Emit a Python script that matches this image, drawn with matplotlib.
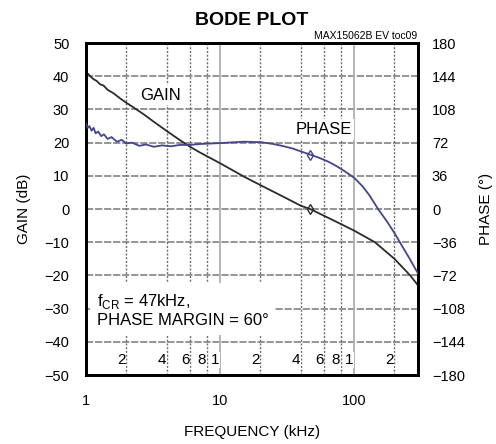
import matplotlib
matplotlib.use("Agg")
import matplotlib.pyplot as plt

plt.rcParams['font.family'] = ['Liberation Sans', 'DejaVu Sans']
plt.rcParams['mathtext.fontset'] = 'custom'
plt.rcParams['mathtext.rm'] = 'Liberation Sans'

# gain curve (kHz, dB)
gain_freq = [1.0, 1.03, 1.06, 1.1, 1.15, 1.2, 1.27, 1.35, 1.45, 1.6, 1.8, 2.0, 2.3,
             2.7, 3.2, 4.0, 5.0, 6.0, 7.1, 10, 15, 20, 30, 40, 47, 70, 100, 143,
             200, 262, 300]
gain_db = [40.0, 40.8, 40.3, 39.6, 39.0, 38.6, 37.6, 37.2, 35.9, 34.9, 33.3, 32.0, 30.4,
           28.5, 26.3, 23.5, 20.8, 18.7, 17.0, 13.8, 9.8, 7.2, 3.6, 1.0, 0.0, -3.4,
           -6.5, -10.0, -15.0, -20.0, -23.0]

# phase curve (kHz, degrees)
phase_freq = [1.0, 1.03, 1.06, 1.1, 1.14, 1.18, 1.23, 1.3, 1.36, 1.45, 1.55, 1.7, 1.85,
              2.0, 2.2, 2.5, 2.8, 3.2, 3.7, 4.3, 5.0, 6.0, 7.1, 10, 15, 20, 25, 30,
              35, 40, 47, 55, 65, 75, 85, 100, 115, 130, 151, 175, 200, 230, 260, 300]
phase_deg = [92, 88, 90, 85, 88, 82, 84, 79, 81, 76, 78, 73, 75,
             71, 72, 68.5, 70, 67.5, 69, 68, 69.5, 69.5, 70.5, 71.5, 73, 72.5, 70.5, 68,
             65.5, 62.5, 59, 55.5, 51, 46, 41, 34, 25, 15, 0, -13, -26, -41, -54, -70]

marker_freq = 47
minor_freq = [2, 4, 6, 8, 10, 20, 40, 60, 80, 100, 200]
minor_labels = ['2', '4', '6', '8', '1', '2', '4', '6', '8', '1', '2']

fig = plt.figure(figsize=(4.96, 4.44), dpi=100)
ax = fig.add_axes([0.1734, 0.1554, 0.6694, 0.7477])
ax2 = ax.twinx()

ax.set_xscale('log')
ax.set_xlim(1, 300)
ax.set_ylim(-50, 50)
ax.set_yticks(range(-50, 51, 10))
ax.set_xticks([1, 10, 100])
ax.set_xticklabels(['1', '10', '100'])
ax.minorticks_off()
ax.tick_params(length=0, labelsize=10.5, pad=12)
ax.tick_params(axis='x', pad=14)
ax2.set_ylim(-180, 180)
ax2.set_yticks(range(-180, 181, 36))
ax2.tick_params(length=0, labelsize=10.5, pad=10)

# grid
for y in range(-40, 50, 10):
    ax.axhline(y, color='#8c8c8c', lw=1.3, ls=(0, (4, 1)), zorder=1)
for f in minor_freq:
    if f in (10, 100):
        ax.axvline(f, color='#b0b0b0', lw=1.3, zorder=1)
    else:
        ax.axvline(f, color='#6f6f6f', lw=1.0, ls=(0, (1.5, 1.2)), zorder=1)

ax.plot(gain_freq, gain_db, color='#2b2b2b', lw=1.3, zorder=3)
ax2.plot(phase_freq, phase_deg, color='#45458a', lw=1.3, zorder=3)
ax.plot([marker_freq], [0], marker='d', ms=5, mfc='none', mec='#2b2b2b', zorder=4)
ax2.plot([marker_freq], [59], marker='d', ms=5, mfc='none', mec='#45458a', zorder=4)

for s in list(ax.spines.values()) + list(ax2.spines.values()):
    s.set_linewidth(2)

for f, lab in zip(minor_freq, minor_labels):
    ax.text(f * 0.985, -45.5, lab, ha='right', va='center', fontsize=11, zorder=5,
            bbox=dict(facecolor='white', edgecolor='none', pad=0.5))

box = dict(facecolor='white', edgecolor='none', pad=2)
ax.text(3.57, 34.3, 'GAIN', ha='center', va='center', fontsize=12, bbox=box, zorder=5)
ax2.text(59, 86, 'PHASE', ha='center', va='center', fontsize=12, bbox=box, zorder=5)
ax.text(1.2, -30.5, r'f$_{\mathrm{CR}}$ = 47kHz,' + '\nPHASE MARGIN = 60°', ha='left',
        va='center', fontsize=12, linespacing=1.15, zorder=5,
        bbox=dict(facecolor='white', edgecolor='none', pad=5))

ax.set_ylabel('GAIN (dB)', fontsize=11, labelpad=10)
ax2.set_ylabel('PHASE (°)', fontsize=11, labelpad=10)
ax.set_xlabel('FREQUENCY (kHz)', fontsize=11, labelpad=12)
fig.text(0.508, 0.953, 'BODE PLOT', ha='center', va='center', fontsize=14, fontweight='bold')
fig.text(0.842, 0.918, 'MAX15062B EV toc09', ha='right', va='center', fontsize=7.5)

fig.savefig('out.png', dpi=100)
